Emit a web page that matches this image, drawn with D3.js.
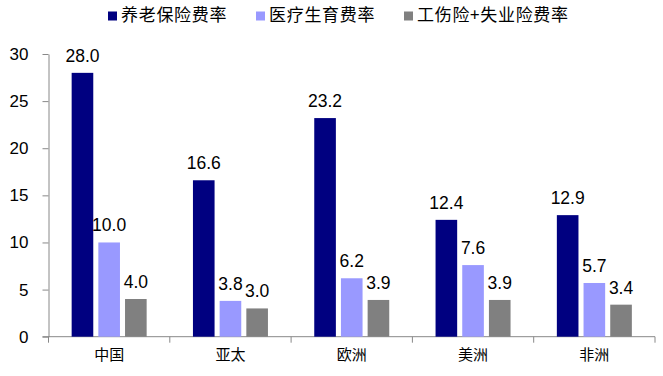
<!DOCTYPE html>
<html>
<head>
<meta charset="utf-8">
<script src="https://cdn.jsdelivr.net/npm/d3@7"></script>
<style>
    body { margin: 0; background: #fff; }
    svg { display: block; }
    .tick-label { font-family: "Liberation Sans", Arial, sans-serif; }
    .cn { font-family: "Noto Sans CJK SC", sans-serif; }
</style>
</head>
<body>
<div id="chart"></div>
<script>

// chart data
let categories = ["中国", "亚太", "欧洲", "美洲", "非洲"];
let seriesNames = ["养老保险费率", "医疗生育费率", "工伤险+失业险费率"];
let pension = [28.0, 16.6, 23.2, 12.4, 12.9];
let medical = [10.0, 3.8, 6.2, 7.6, 5.7];
let injury = [4.0, 3.0, 3.9, 3.9, 3.4];
let yTicks = [0, 5, 10, 15, 20, 25, 30];

let seriesValues = [pension, medical, injury];
let colors = ["#000080", "#9999FF", "#808080"];

let width = 663, height = 376;

let svg = d3.select("#chart").append("svg")
    .attr("width", width)
    .attr("height", height);

// scales
let x0 = d3.scaleBand()
    .domain(categories)
    .range([48.5, 655]);

let groupWidth = 75;
let x1 = d3.scaleBand()
    .domain(seriesNames)
    .range([(x0.bandwidth() - groupWidth) / 2, (x0.bandwidth() + groupWidth) / 2])
    .paddingInner(0.19);

let y = d3.scaleLinear()
    .domain([0, 30])
    .range([336.7, 54]);

// y axis
let yAxis = svg.append("g")
    .attr("transform", `translate(${x0.range()[0]},0)`)
    .call(d3.axisLeft(y).tickValues(yTicks).tickSize(6).tickSizeOuter(0));
yAxis.select(".domain").attr("stroke", "#888");
yAxis.selectAll(".tick line").attr("stroke", "#888");
yAxis.selectAll(".tick text")
    .attr("class", "tick-label")
    .attr("x", -20)
    .attr("font-size", "17px")
    .attr("fill", "#000");

// x axis
let xAxis = svg.append("g")
    .attr("transform", `translate(0,${y(0)})`)
    .call(d3.axisBottom(x0).tickSize(0).tickSizeOuter(0));
xAxis.select(".domain").attr("stroke", "#888").attr("d", `M${x0.range()[0] - 6},0H${x0.range()[1]}`);
xAxis.selectAll(".tick text")
    .attr("class", "cn")
    .attr("dy", 0)
    .attr("y", 23)
    .attr("font-size", "15px")
    .attr("fill", "#000");

// category separators
svg.append("g").selectAll("line")
    .data(categories.map(c => x0(c)).concat([x0.range()[1]]))
    .enter().append("line")
    .attr("x1", d => d).attr("x2", d => d)
    .attr("y1", y(0)).attr("y2", y(0) + 6)
    .attr("stroke", "#888");

// bars
let groups = svg.selectAll(".series")
    .data(seriesNames)
    .enter().append("g")
    .attr("class", "series")
    .attr("fill", (d, i) => colors[i]);

groups.each(function(name, si) {
    let g = d3.select(this);
    let rows = categories.map((c, ci) => ({cat: c, value: seriesValues[si][ci]}));

    g.selectAll("rect")
        .data(rows)
        .enter().append("rect")
        .attr("x", d => x0(d.cat) + x1(name))
        .attr("y", d => y(d.value))
        .attr("width", x1.bandwidth())
        .attr("height", d => y(0) - y(d.value));

    g.selectAll("text")
        .data(rows)
        .enter().append("text")
        .attr("class", "tick-label")
        .attr("x", d => x0(d.cat) + x1(name) + x1.bandwidth() / 2)
        .attr("y", d => y(d.value) - 11)
        .attr("text-anchor", "middle")
        .attr("font-size", "17.5px")
        .attr("fill", "#000")
        .text(d => d.value.toFixed(1));
});

// legend
let legendX = [108, 256, 404];
let legend = svg.append("g").attr("class", "legend");
seriesNames.forEach((name, i) => {
    legend.append("rect")
        .attr("x", legendX[i])
        .attr("y", 11.5)
        .attr("width", 9)
        .attr("height", 9)
        .attr("fill", colors[i]);
    legend.append("text")
        .attr("class", "cn")
        .attr("x", legendX[i] + 13)
        .attr("y", 16)
        .attr("dominant-baseline", "middle")
        .attr("font-size", "17px")
        .attr("letter-spacing", "0.7px")
        .attr("fill", "#000")
        .text(name);
});

</script>
</body>
</html>
